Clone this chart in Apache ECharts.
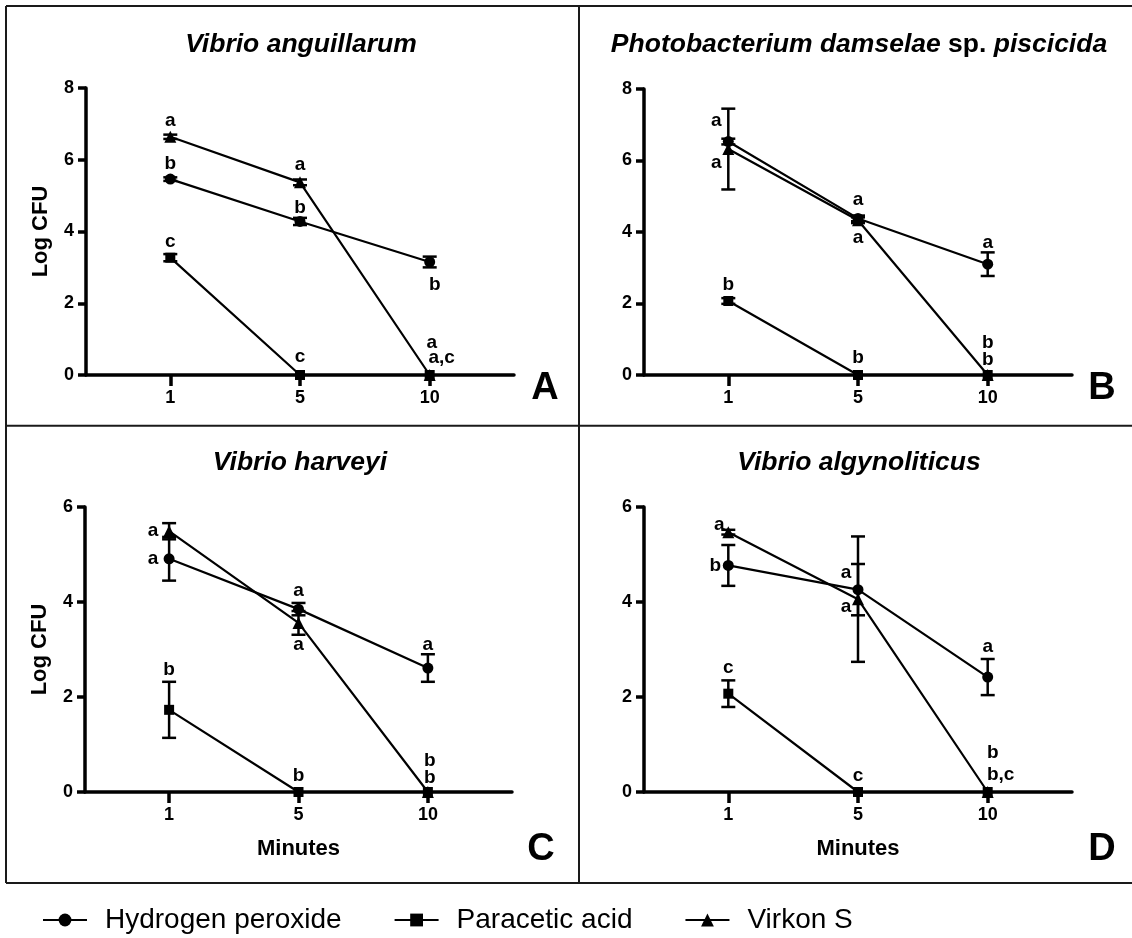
<!DOCTYPE html>
<html>
<head>
<meta charset="utf-8">
<script src="https://cdn.jsdelivr.net/npm/echarts@6/dist/echarts.min.js"></script>
<style>html,body{margin:0;padding:0;background:#fff}#c{width:1132px;height:938px}</style>
</head>
<body>
<div id="c"></div>
<script>
// ---------- data ----------
const minutes = ['1', '5', '10'];
const seriesNames = ['Hydrogen peroxide', 'Paracetic acid', 'Virkon S'];
const panelTitles = ['Vibrio anguillarum', 'Photobacterium damselae sp. piscicida', 'Vibrio harveyi', 'Vibrio algynoliticus'];
const panelLetters = ['A', 'B', 'C', 'D'];

// Panel A – Vibrio anguillarum
const A_h2o2 = [5.46, 4.28, 3.15];
const A_h2o2Err = [0.05, 0.10, 0.15];
const A_h2o2Sig = ['b', 'b', 'b'];
const A_para = [3.27, 0, 0];
const A_paraErr = [0.10, 0, 0];
const A_paraSig = ['c', 'c', 'a,c'];
const A_virkon = [6.64, 5.37, 0];
const A_virkonErr = [0.06, 0.08, 0];
const A_virkonSig = ['a', 'a', 'a'];

// Panel B – Photobacterium damselae sp. piscicida
const B_h2o2 = [6.53, 4.38, 3.10];
const B_h2o2Err = [0.08, 0.08, 0.33];
const B_h2o2Sig = ['a', 'a', 'a'];
const B_para = [2.07, 0, 0];
const B_paraErr = [0.08, 0, 0];
const B_paraSig = ['b', 'b', 'b'];
const B_virkon = [6.32, 4.33, 0];
const B_virkonErr = [1.13, 0.08, 0];
const B_virkonSig = ['a', 'a', 'b'];

// Panel C – Vibrio harveyi
const C_h2o2 = [4.91, 3.85, 2.61];
const C_h2o2Err = [0.46, 0.13, 0.29];
const C_h2o2Sig = ['a', 'a', 'a'];
const C_para = [1.73, 0, 0];
const C_paraErr = [0.59, 0, 0];
const C_paraSig = ['b', 'b', 'b'];
const C_virkon = [5.49, 3.56, 0];
const C_virkonErr = [0.17, 0.25, 0];
const C_virkonSig = ['a', 'a', 'b'];

// Panel D – Vibrio algynoliticus
const D_h2o2 = [4.77, 4.26, 2.42];
const D_h2o2Err = [0.43, 0.54, 0.38];
const D_h2o2Sig = ['b', 'a', 'a'];
const D_para = [2.07, 0, 0];
const D_paraErr = [0.28, 0, 0];
const D_paraSig = ['c', 'c', 'b,c'];
const D_virkon = [5.47, 4.06, 0];
const D_virkonErr = [0.05, 1.32, 0];
const D_virkonSig = ['a', 'a', 'b'];

const yMax = [8, 8, 6, 6];

// ---------- layout / style (not data) ----------
const FONT = '"Liberation Sans", Arial, Helvetica, sans-serif';
const grids = [
  {left: 86, top: 88, width: 428, height: 287},
  {left: 644, top: 89, width: 428, height: 286},
  {left: 85, top: 507, width: 427, height: 285},
  {left: 644, top: 507, width: 428, height: 285}
];
const symbols = ['circle', 'rect', 'triangle'];
const symbolSizes = [11, 10, 12];
// label offsets [dx, dy] in px per panel / series / point
const sigOffsets = [
  [[[0,-15],[0,-14],[5,23]], [[0,-16],[0,-18],[12,-17]], [[0,-16],[0,-18],[2,-32]]],
  [[[-12,-21],[0,-19],[0,-21]], [[0,-16],[0,-17],[0,-15]], [[-12,14],[0,18],[0,-32]]],
  [[[-16,0],[0,-18],[0,-23]], [[0,-40],[0,-16],[2,-14]], [[-16,0],[0,22],[2,-31]]],
  [[[-13,0],[-12,-17],[0,-30]], [[0,-26],[0,-16],[13,-17]], [[-9,-7],[-12,8],[5,-39]]]
];
const titlePos = [[301, 45], [859, 45], [300, 463], [859, 463]];
const letterPos = [[545, 389], [1102, 389], [541, 850], [1102, 850]];

const panels = [
  {vals: [A_h2o2, A_para, A_virkon], errs: [A_h2o2Err, A_paraErr, A_virkonErr], sigs: [A_h2o2Sig, A_paraSig, A_virkonSig]},
  {vals: [B_h2o2, B_para, B_virkon], errs: [B_h2o2Err, B_paraErr, B_virkonErr], sigs: [B_h2o2Sig, B_paraSig, B_virkonSig]},
  {vals: [C_h2o2, C_para, C_virkon], errs: [C_h2o2Err, C_paraErr, C_virkonErr], sigs: [C_h2o2Sig, C_paraSig, C_virkonSig]},
  {vals: [D_h2o2, D_para, D_virkon], errs: [D_h2o2Err, D_paraErr, D_virkonErr], sigs: [D_h2o2Sig, D_paraSig, D_virkonSig]}
];

const xAxes = [], yAxes = [], series = [];
const tickPos = minutes.map((m, i) => i + 1);

panels.forEach((p, gi) => {
  xAxes.push({
    type: 'value', gridIndex: gi, min: 0.35, max: 3.65,
    axisLine: {show: true, onZero: false, lineStyle: {color: '#000', width: 3.5}},
    axisTick: {show: true, customValues: tickPos, length: 11, lineStyle: {color: '#000', width: 3.5}},
    axisLabel: {show: true, customValues: tickPos, formatter: v => minutes[Math.round(v) - 1] || '',
      margin: 14, fontSize: 18, fontWeight: 'bold', color: '#000', fontFamily: FONT},
    splitLine: {show: false},
    name: gi >= 2 ? 'Minutes' : '', nameLocation: 'middle', nameGap: 46,
    nameTextStyle: {fontSize: 22, fontWeight: 'bold', color: '#000', fontFamily: FONT}
  });
  yAxes.push({
    type: 'value', gridIndex: gi, min: 0, max: yMax[gi], interval: 2,
    axisLine: {show: true, onZero: false, lineStyle: {color: '#000', width: 3.5}},
    axisTick: {show: true, length: 8, lineStyle: {color: '#000', width: 3.5}},
    axisLabel: {margin: 12, fontSize: 18, fontWeight: 'bold', color: '#000', fontFamily: FONT},
    splitLine: {show: false},
    name: (gi === 0 || gi === 2) ? 'Log CFU' : '', nameLocation: 'middle', nameGap: 34,
    nameTextStyle: {fontSize: 22, fontWeight: 'bold', color: '#000', fontFamily: FONT}
  });
  p.vals.forEach((vals, si) => {
    series.push({
      type: 'line', name: seriesNames[si], xAxisIndex: gi, yAxisIndex: gi,
      data: vals.map((v, i) => [i + 1, v]),
      symbol: symbols[si], symbolSize: symbolSizes[si], showSymbol: true,
      lineStyle: {color: '#000', width: 2.2}, itemStyle: {color: '#000'},
      z: 3, animation: false, emphasis: {disabled: true}
    });
    series.push({
      type: 'custom', name: 'err' + gi + si, xAxisIndex: gi, yAxisIndex: gi,
      data: vals.map((v, i) => [i + 1, v, p.errs[si][i]]),
      renderItem: (params, api) => {
        const x = api.value(0), y = api.value(1), e = api.value(2);
        if (!e) return null;
        const hi = api.coord([x, y + e]), lo = api.coord([x, y - e]);
        const w = 7, st = {stroke: '#000', lineWidth: 2.5};
        return {type: 'group', children: [
          {type: 'line', shape: {x1: hi[0], y1: hi[1], x2: lo[0], y2: lo[1]}, style: st},
          {type: 'line', shape: {x1: hi[0] - w, y1: hi[1], x2: hi[0] + w, y2: hi[1]}, style: st},
          {type: 'line', shape: {x1: lo[0] - w, y1: lo[1], x2: lo[0] + w, y2: lo[1]}, style: st}
        ]};
      },
      z: 2, animation: false, silent: true
    });
    series.push({
      type: 'custom', name: 'sig' + gi + si, xAxisIndex: gi, yAxisIndex: gi,
      data: vals.map((v, i) => [i + 1, v, i]),
      renderItem: (params, api) => {
        const i = api.value(2);
        const c = api.coord([api.value(0), api.value(1)]);
        const off = sigOffsets[gi][si][i];
        return {type: 'text', x: c[0] + off[0], y: c[1] + off[1],
          style: {text: p.sigs[si][i], fill: '#000', font: 'bold 19px ' + FONT, align: 'center', verticalAlign: 'middle'}};
      },
      z: 4, animation: false, silent: true
    });
  });
});

const graphic = [];
const lineStyle = {stroke: '#1a1a1a', lineWidth: 2};
[[6, 6, 1132, 6], [6, 6, 6, 883], [6, 883, 1132, 883], [579, 6, 579, 883], [6, 425.7, 1132, 425.7]].forEach(l => {
  graphic.push({type: 'line', shape: {x1: l[0], y1: l[1], x2: l[2], y2: l[3]}, style: lineStyle, silent: true});
});
panelTitles.forEach((t, i) => {
  let text = '{i|' + t + '}';
  if (i === 1) text = '{i|Photobacterium damselae} {n|sp.} {i|piscicida}';
  graphic.push({type: 'text', x: titlePos[i][0], y: titlePos[i][1], silent: true,
    style: {text: text, align: 'center', verticalAlign: 'middle', fill: '#000', font: 'bold 26.5px ' + FONT,
      rich: {
        i: {fontStyle: 'italic', fontWeight: 'bold', fontSize: 26.5, fontFamily: FONT, fill: '#000'},
        n: {fontStyle: 'normal', fontWeight: 'bold', fontSize: 26.5, fontFamily: FONT, fill: '#000'}
      }}});
});
panelLetters.forEach((l, i) => {
  graphic.push({type: 'text', x: letterPos[i][0], y: letterPos[i][1], silent: true,
    style: {text: l, align: 'center', verticalAlign: 'middle', fill: '#000', font: 'bold 38px ' + FONT}});
});

const chart = echarts.init(document.getElementById('c'), null, {renderer: 'canvas'});
chart.setOption({
  backgroundColor: '#fff',
  animation: false,
  grid: grids,
  xAxis: xAxes,
  yAxis: yAxes,
  legend: {
    data: seriesNames, left: 42, top: 906, padding: 0, itemWidth: 44, itemHeight: 16, itemGap: 52,
    selectedMode: false,
    textStyle: {fontSize: 28, color: '#000', fontFamily: FONT, padding: [0, 0, 0, 13]}
  },
  series: series,
  graphic: graphic
});
</script>
</body>
</html>
